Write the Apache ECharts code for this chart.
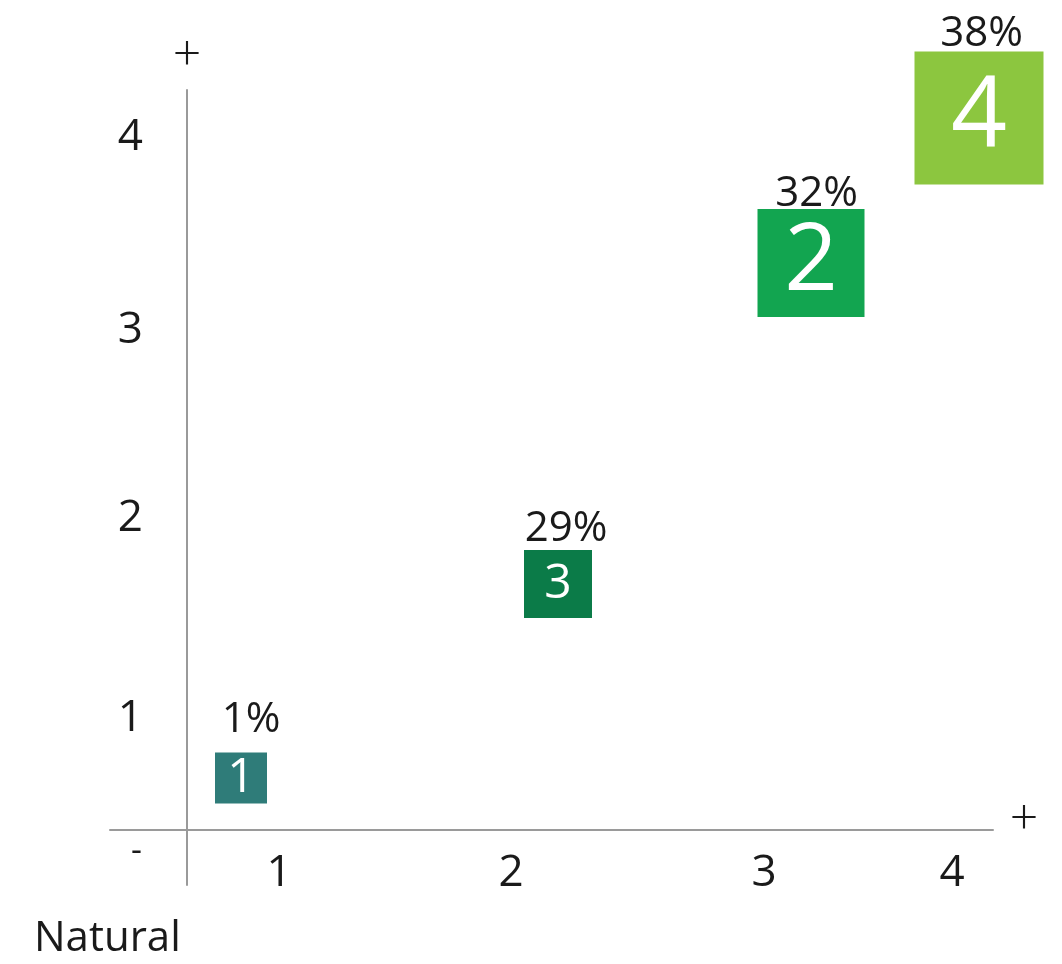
<!DOCTYPE html>
<html>
<head>
<meta charset="utf-8">
<script src="https://cdn.jsdelivr.net/npm/echarts@6/dist/echarts.min.js"></script>
<style>
html,body{margin:0;padding:0;background:#fff;}
#chart{width:1062px;height:964px;}
</style>
</head>
<body>
<div id="chart"></div>
<script>
// ---- data ----
const segments = ['1', '2', '3', '4'];
const shares = [1, 32, 29, 38];            // percent
const xValues = [0.27, 3.12, 1.855, 3.96];
const yValues = [0.26, 2.835, 1.23, 3.56];
const xTickValues = [0.46, 1.62, 2.885, 3.825];
const xTickLabels = ['1', '2', '3', '4'];
const yTickValues = [0.56, 1.56, 2.5, 3.465];
const yTickLabels = ['1', '2', '3', '4'];
const cornerLabel = 'Natural';

// ---- styles ----
const FONT = "'Open Sans', 'Noto Sans', sans-serif";
const TEXT = '#1a1a1a';
const BOX = {
  '1': { color: '#2f7c79', size: [52, 51],  font: 48, pct: [10, -11] },
  '2': { color: '#12a550', size: [107, 108], font: 94, pct: [5.5, 6.5] },
  '3': { color: '#0b7b48', size: [68, 68],  font: 48, pct: [8, 0.5] },
  '4': { color: '#8cc63f', size: [129, 133], font: 98, pct: [2.5, 3.5] }
};

function nearestLabel(v, vals, labels) {
  let best = 0;
  for (let i = 1; i < vals.length; i++) {
    if (Math.abs(vals[i] - v) < Math.abs(vals[best] - v)) best = i;
  }
  return labels[best];
}

const boxData = segments.map((s, i) => ({
  name: s,
  value: [xValues[i], yValues[i]],
  symbolSize: BOX[s].size,
  itemStyle: { color: BOX[s].color, opacity: 1 },
  label: { fontSize: BOX[s].font }
}));
const pctData = segments.map((s, i) => ({
  name: s,
  value: [xValues[i], yValues[i]],
  symbolSize: BOX[s].size,
  label: { offset: BOX[s].pct }
}));

const chart = echarts.init(document.getElementById('chart'), null, { renderer: 'canvas' });
chart.setOption({
  backgroundColor: '#ffffff',
  animation: false,
  textStyle: { fontFamily: FONT },
  grid: { left: 110, right: 69, top: 90, bottom: 79, containLabel: false, outerBoundsMode: 'none' },
  xAxis: {
    type: 'value',
    min: -0.385, max: 4.03,
    splitLine: { show: false },
    axisTick: { show: false },
    axisLine: { show: true, onZero: true, lineStyle: { color: '#9a9a9a', width: 2 } },
    axisLabel: {
      customValues: xTickValues,
      formatter: v => nearestLabel(v, xTickValues, xTickLabels),
      fontSize: 44, color: TEXT, fontFamily: FONT, margin: -34
    },
    name: '+',
    nameLocation: 'end',
    nameGap: 31,
    nameTextStyle: { fontSize: 50, lineHeight: 18, color: TEXT, fontFamily: FONT, fontWeight: 300,
      align: 'center', verticalAlign: 'bottom' }
  },
  yAxis: {
    type: 'value',
    min: -0.275, max: 3.7,
    splitLine: { show: false },
    axisTick: { show: false },
    axisLine: { show: true, onZero: true, lineStyle: { color: '#9a9a9a', width: 2 } },
    axisLabel: {
      customValues: yTickValues,
      formatter: v => nearestLabel(v, yTickValues, yTickLabels),
      fontSize: 44, color: TEXT, fontFamily: FONT, margin: -33
    },
    name: '+',
    nameLocation: 'end',
    nameGap: 33,
    nameTextStyle: { fontSize: 50, color: TEXT, fontFamily: FONT, fontWeight: 300,
      align: 'center', verticalAlign: 'middle' }
  },
  graphic: [
    { type: 'text', left: 131, top: 834,
      style: { text: '-', fontSize: 34, fill: TEXT, fontFamily: FONT } },
    { type: 'text', left: 34, top: 918,
      style: { text: cornerLabel, fontSize: 42, fill: TEXT, fontFamily: FONT } }
  ],
  series: [
    {
      type: 'scatter',
      symbol: 'rect',
      clip: false,
      data: boxData,
      itemStyle: { opacity: 1 },
      label: {
        show: true, position: 'inside',
        formatter: p => p.name,
        color: '#ffffff', fontFamily: FONT
      },
      z: 2
    },
    {
      type: 'scatter',
      symbol: 'rect',
      clip: false,
      silent: true,
      data: pctData,
      itemStyle: { color: 'rgba(0,0,0,0)', opacity: 1 },
      label: {
        show: true, position: 'top', distance: 0,
        formatter: p => shares[p.dataIndex] + '%',
        fontSize: 42, color: TEXT, fontFamily: FONT
      },
      z: 3
    }
  ]
});
</script>
</body>
</html>
